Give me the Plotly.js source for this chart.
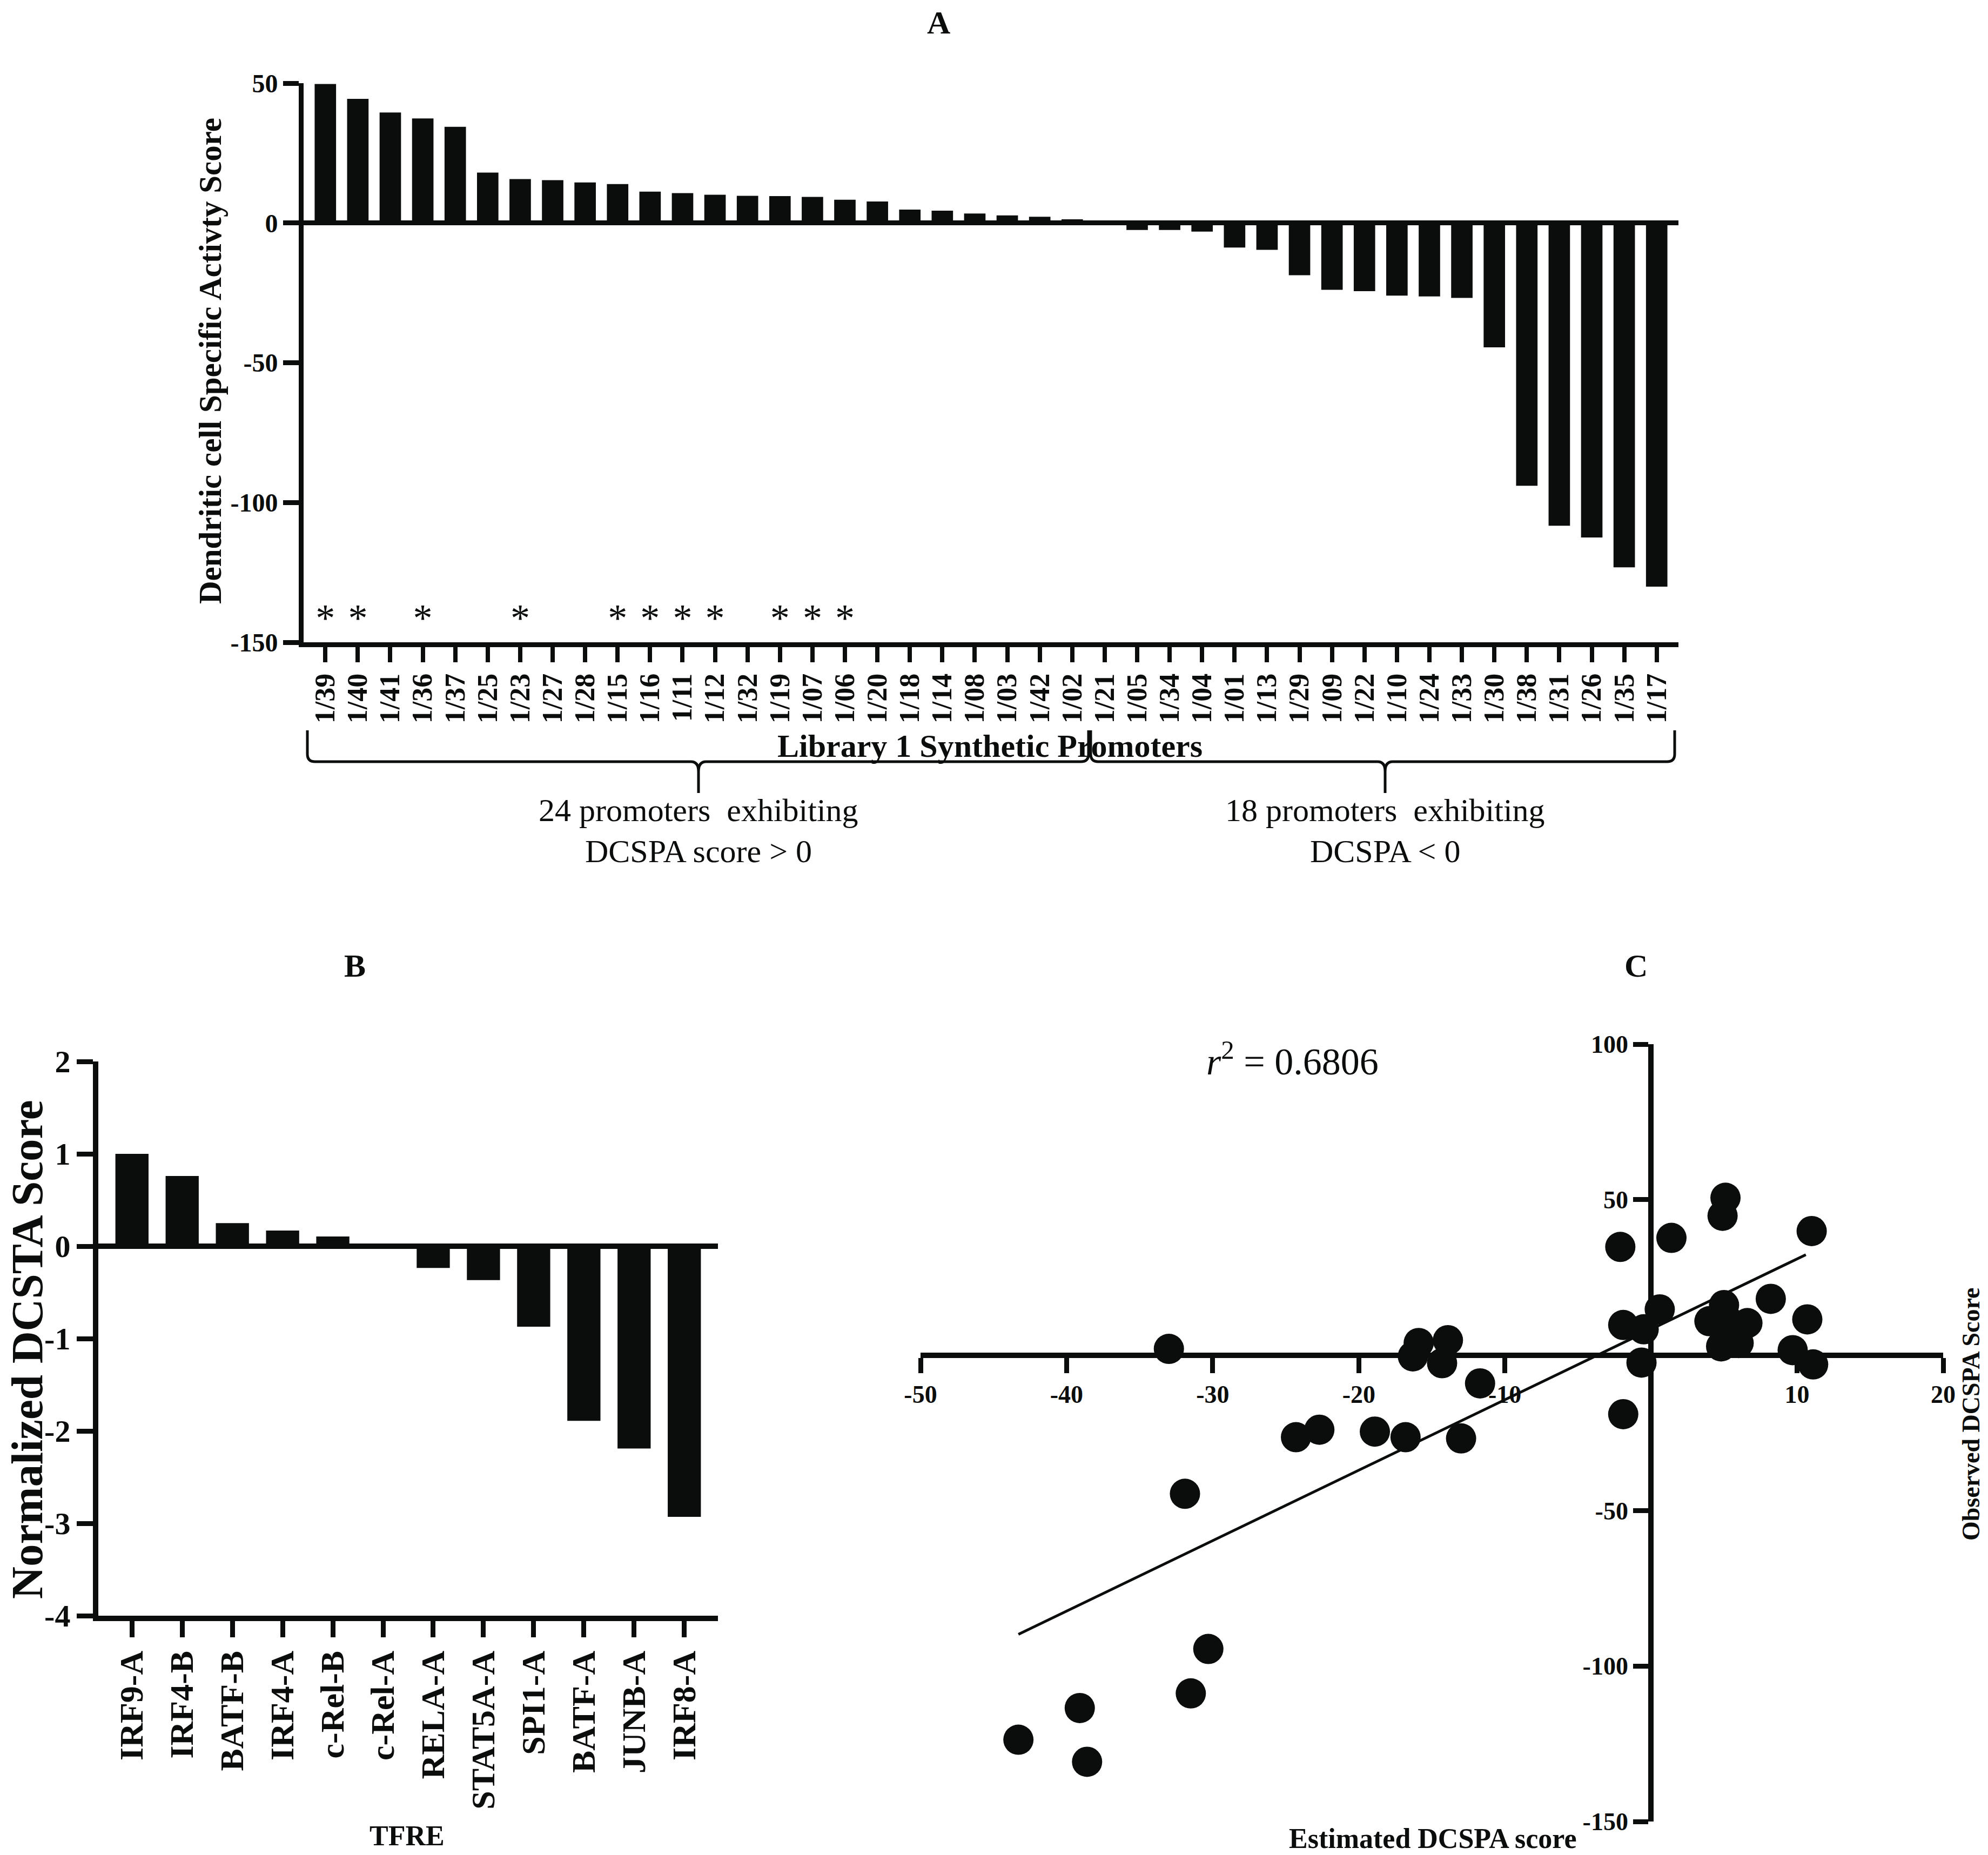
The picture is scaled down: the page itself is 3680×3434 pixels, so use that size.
<!DOCTYPE html>
<html>
<head>
<meta charset="utf-8">
<script src="https://cdn.plot.ly/plotly-3.0.1.min.js"></script>
<style>
html, body { margin: 0; padding: 0; background: #ffffff; }
#chart { width: 3680px; height: 3434px; }
</style>
</head>
<body>
<div id="chart"></div>
<script>
// ---------- Panel A: Library 1 synthetic promoters ----------
const promoters = ['1/39','1/40','1/41','1/36','1/37','1/25','1/23','1/27','1/28','1/15','1/16','1/11','1/12','1/32','1/19','1/07','1/06','1/20','1/18','1/14','1/08','1/03','1/42','1/02','1/21','1/05','1/34','1/04','1/01','1/13','1/29','1/09','1/22','1/10','1/24','1/33','1/30','1/38','1/31','1/26','1/35','1/17'];
const dcspaScores = [49.7,44.4,39.5,37.4,34.4,18.0,15.7,15.3,14.5,13.9,11.2,10.7,10.1,9.7,9.6,9.3,8.3,7.7,4.8,4.4,3.4,2.7,2.2,1.3,-0.3,-2.5,-2.5,-3.1,-8.8,-9.6,-18.7,-23.9,-24.4,-26.0,-26.3,-26.8,-44.5,-94.0,-108.3,-112.5,-123.2,-130.1];
const significantPromoters = ['1/39','1/40','1/36','1/23','1/15','1/16','1/11','1/12','1/19','1/07','1/06'];
const asteriskLevel = -142.5;
const yTicksA = [-150,-100,-50,0,50];

// ---------- Panel B: TFRE scores ----------
const tfres = ['IRF9-A','IRF4-B','BATF-B','IRF4-A','c-Rel-B','c-Rel-A','RELA-A','STAT5A-A','SPI1-A','BATF-A','JUNB-A','IRF8-A'];
const dcstaScores = [1.0,0.76,0.25,0.17,0.105,0.0,-0.236,-0.367,-0.871,-1.89,-2.19,-2.93];
const yTicksB = [-4,-3,-2,-1,0,1,2];

// ---------- Panel C: estimated vs observed ----------
const estimatedDcspa = [-33.0,-43.3,-39.1,-38.6,-31.5,-30.3,-31.9,-24.3,-22.7,-18.9,-16.8,-13.0,-15.9,-16.3,-13.9,-14.3,-11.7,-2.1,-1.9,-1.9,-0.65,-0.5,0.6,1.4,5.1,4.9,11.0,5.0,4.0,6.6,4.8,6.0,5.3,8.2,10.7,9.7,11.1];
const observedDcspa = [2.0,-123.7,-113.5,-130.8,-108.8,-94.5,-44.6,-26.4,-24.0,-24.6,-26.4,-26.8,3.9,-0.4,4.8,-2.6,-9.1,34.8,9.7,-19.0,-2.4,8.3,14.7,37.7,50.6,44.8,39.9,16.1,10.9,10.3,2.8,3.9,10.9,18.1,11.5,1.6,-3.0];
const fitX = [-43.3, 10.6];
const fitY = [-89.8, 32.3];
const xTicksC = [-50,-40,-30,-20,-10,10,20];
const yTicksC = [-150,-100,-50,50,100];
const rSquaredText = '<i>r</i><sup>2</sup> = 0.6806';

// ---------- helpers ----------
const W = 3680, H = 3434;
const px = v => v / W;
const py = v => 1 - v / H;
const serif = 'Liberation Serif, Times New Roman, serif';
const ink = '#0b0c0c';
const font = (size, bold) => ({ family: serif, size: size, color: ink, weight: bold ? 700 : 400 });
const hyphenLabels = arr => arr.map(v => String(v));

const dom = {
  A: { x: [562, 3107], y: [154, 1189] },
  B: { x: [182, 1329], y: [1965, 2991] },
  C: { x: [1704, 3597], y: [1933, 3372] }
};
const xd = d => [px(d[0]), px(d[1])];
const yd = d => [py(d[1]), py(d[0])];

const rangeCx = [-50, 20], rangeCy = [-150, 100];
const cXAxisPos = py(dom.C.y[1]) + (0 - rangeCy[0]) / (rangeCy[1] - rangeCy[0]) * (py(dom.C.y[0]) - py(dom.C.y[1]));
const cYAxisPos = px(dom.C.x[0]) + (0 - rangeCx[0]) / (rangeCx[1] - rangeCx[0]) * (px(dom.C.x[1]) - px(dom.C.x[0]));

function pathFromPx(cmds) {
  return cmds.map(c => {
    const out = [];
    for (let i = 1; i < c.length; i += 2) out.push(px(c[i]).toFixed(6) + ',' + py(c[i + 1]).toFixed(6));
    return c[0] + ' ' + out.join(' ');
  }).join(' ');
}
function bracePath(x0, xm, x1, yTop, yLine, yTip) {
  const r = 14;
  return pathFromPx([
    ['M', x0, yTop], ['L', x0, yLine - r], ['Q', x0, yLine, x0 + r, yLine],
    ['L', xm - r, yLine], ['Q', xm, yLine, xm, yLine + 18], ['L', xm, yTip],
    ['M', xm, yLine + 18], ['Q', xm, yLine, xm + r, yLine],
    ['L', x1 - r, yLine], ['Q', x1, yLine, x1, yLine - r], ['L', x1, yTop]
  ]);
}

const axisBase = { showgrid: false, zeroline: false, showline: true, linecolor: ink, ticks: 'outside', tickcolor: ink, fixedrange: true, automargin: false };

const traces = [
  { type: 'bar', x: promoters, y: dcspaScores, xaxis: 'x', yaxis: 'y', width: 0.66,
    marker: { color: ink, line: { width: 0 } }, hoverinfo: 'skip' },
  { type: 'scatter', mode: 'text', x: significantPromoters, y: significantPromoters.map(() => asteriskLevel),
    text: significantPromoters.map(() => '*'), textfont: font(72, false), textposition: 'middle center',
    xaxis: 'x', yaxis: 'y', cliponaxis: false, hoverinfo: 'skip' },
  { type: 'bar', x: tfres, y: dcstaScores, xaxis: 'x2', yaxis: 'y2', width: 0.66,
    marker: { color: ink, line: { width: 0 } }, hoverinfo: 'skip' },
  { type: 'scatter', mode: 'lines', x: fitX, y: fitY, xaxis: 'x3', yaxis: 'y3',
    line: { color: ink, width: 5 }, hoverinfo: 'skip' },
  { type: 'scatter', mode: 'markers', x: estimatedDcspa, y: observedDcspa, xaxis: 'x3', yaxis: 'y3',
    marker: { size: 56, color: ink, line: { width: 0 } }, cliponaxis: false, hoverinfo: 'skip' }
];

const ann = (text, x, y, f, extra) => Object.assign({ text: text, x: px(x), y: py(y), xref: 'paper', yref: 'paper',
  xanchor: 'center', yanchor: 'middle', showarrow: false, font: f }, extra || {});

const layout = {
  width: W, height: H,
  margin: { l: 0, r: 0, t: 0, b: 0, pad: 0 },
  paper_bgcolor: '#ffffff', plot_bgcolor: 'rgba(0,0,0,0)',
  showlegend: false, hovermode: false,
  xaxis: Object.assign({}, axisBase, { domain: xd(dom.A.x), anchor: 'y', type: 'category', range: [-0.67, 41.67],
    tickmode: 'array', tickvals: promoters, ticktext: promoters,
    linewidth: 9, tickwidth: 8, ticklen: 28, tickangle: -90, tickfont: font(52, true) }),
  yaxis: Object.assign({}, axisBase, { domain: yd(dom.A.y), anchor: 'x', range: [-150, 50],
    tickmode: 'array', tickvals: yTicksA, ticktext: hyphenLabels(yTicksA),
    linewidth: 9, tickwidth: 9, ticklen: 29, tickfont: font(48, true),
    zeroline: true, zerolinecolor: ink, zerolinewidth: 9 }),
  xaxis2: Object.assign({}, axisBase, { domain: xd(dom.B.x), anchor: 'y2', type: 'category', range: [-0.67, 11.67],
    tickmode: 'array', tickvals: tfres, ticktext: tfres,
    linewidth: 10, tickwidth: 9, ticklen: 30, tickangle: -90, tickfont: font(62, true) }),
  yaxis2: Object.assign({}, axisBase, { domain: yd(dom.B.y), anchor: 'x2', range: [-4, 2],
    tickmode: 'array', tickvals: yTicksB, ticktext: hyphenLabels(yTicksB),
    linewidth: 10, tickwidth: 9, ticklen: 30, tickfont: font(58, true),
    zeroline: true, zerolinecolor: ink, zerolinewidth: 10 }),
  xaxis3: Object.assign({}, axisBase, { domain: xd(dom.C.x), anchor: 'free', position: cXAxisPos, range: rangeCx,
    tickmode: 'array', tickvals: xTicksC, ticktext: hyphenLabels(xTicksC),
    linewidth: 10, tickwidth: 9, ticklen: 28, tickfont: font(46, true), layer: 'below traces' }),
  yaxis3: Object.assign({}, axisBase, { domain: yd(dom.C.y), anchor: 'free', position: cYAxisPos, range: rangeCy,
    tickmode: 'array', tickvals: yTicksC, ticktext: hyphenLabels(yTicksC),
    linewidth: 10, tickwidth: 9, ticklen: 28, tickfont: font(46, true), layer: 'below traces' }),
  shapes: [
    { type: 'path', xref: 'paper', yref: 'paper', path: bracePath(569, 1293, 2015, 1352, 1410, 1468), line: { color: ink, width: 5 } },
    { type: 'path', xref: 'paper', yref: 'paper', path: bracePath(2019, 2564, 3100, 1352, 1410, 1468), line: { color: ink, width: 5 } }
  ],
  annotations: [
    ann('A', 1737, 42, font(60, true)),
    ann('B', 657, 1788, font(60, true)),
    ann('C', 3028, 1788, font(60, true)),
    ann('Dendritic cell Specific Activty Score', 389, 668, font(59, true), { textangle: -90 }),
    ann('Library 1 Synthetic Promoters', 1832, 1381, font(60, true)),
    ann('24 promoters\u00a0 exhibiting', 1293, 1500, font(60, false)),
    ann('DCSPA score &gt; 0', 1293, 1576, font(60, false)),
    ann('18 promoters\u00a0 exhibiting', 2564, 1500, font(60, false)),
    ann('DCSPA &lt; 0', 2564, 1576, font(60, false)),
    ann('Normalized DCSTA Score', 50, 2498, font(83, true), { textangle: -90 }),
    ann('TFRE', 753, 3398, font(52, true)),
    ann(rSquaredText, 2392, 1960, font(70, false)),
    ann('Observed DCSPA Score', 3648, 2618, font(46, true), { textangle: -90 }),
    ann('Estimated DCSPA score', 2652, 3434, font(52, true), { yanchor: 'bottom' })
  ]
};

Plotly.newPlot('chart', traces, layout, { staticPlot: true, responsive: false, displayModeBar: false });
</script>
</body>
</html>
